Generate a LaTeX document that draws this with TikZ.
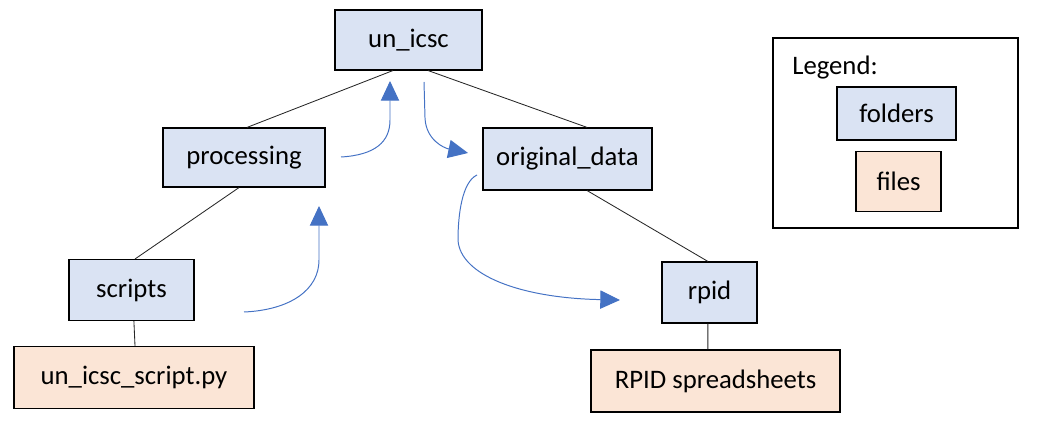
\documentclass[tikz,border=0pt]{standalone}
\usepackage{fontspec}
\setmainfont{Carlito}
\usepackage{tikz}
\usetikzlibrary{arrows.meta, calc}
\definecolor{myblue}{RGB}{68,114,196}
\definecolor{foldfill}{RGB}{218,227,243}
\definecolor{filefill}{RGB}{251,229,214}
\tikzset{
  folder/.style={rectangle, draw=black, fill=foldfill, line width=0.8pt,
    inner sep=0pt, font=\fontsize{19}{23}\selectfont},
  filebox/.style={rectangle, draw=black, fill=filefill, line width=0.8pt,
    inner sep=0pt, font=\fontsize{19}{23}\selectfont},
  link/.style={line width=0.6pt, color=black!85},
  flow/.style={-{Triangle[length=14pt, width=13pt]}, line width=0.7pt, color=myblue}
}

\begin{document}
\begin{tikzpicture}[x=0.025cm, y=-0.025cm]
  \useasboundingbox (0,0) rectangle (1037,426);

  % Folder tree
  \node[folder, minimum width=3.675cm, minimum height=1.5cm] (un) at (408.5,40) {un\_icsc};
  \node[folder, minimum width=4.05cm, minimum height=1.475cm] (proc) at (244,157.5) {processing};
  \node[folder, minimum width=4.225cm, minimum height=1.55cm] (orig) at (567.5,159) {original\_data};
  \node[folder, minimum width=3.125cm, minimum height=1.525cm] (scripts) at (131.5,290) {scripts};
  \node[filebox, minimum width=6cm, minimum height=1.55cm] (py) at (134,377.5) {un\_icsc\_script.py};
  \node[folder, minimum width=2.375cm, minimum height=1.525cm] (rpid) at (709.5,292.5) {rpid};
  \node[filebox, minimum width=6.225cm, minimum height=1.55cm] (sheets) at (715.5,381) {RPID spreadsheets};

  % Tree lines
  \draw[link] ([xshift=-0.39cm]un.south) -- ([xshift=0.075cm]proc.north);
  \draw[link] ([xshift=0.49cm]un.south) -- ([xshift=0.49cm]orig.north);
  \draw[link] ([xshift=-0.125cm]proc.south) -- ([xshift=0.09cm]scripts.north);
  \draw[link] ([xshift=0.49cm]orig.south) -- ([xshift=-0.04cm]rpid.north);
  \draw[link] ([xshift=0.06cm]scripts.south) -- ([xshift=0.025cm]py.north);
  \draw[link] ([xshift=-0.04cm]rpid.south) -- ([xshift=-0.19cm]sheets.north);

  % Flow arrows
  \coordinate (a1) at (341,157);
  \coordinate (a2) at (390,81);
  \coordinate (b1) at (424,82);
  \coordinate (b2) at (468,153);
  \coordinate (c1) at (244,312);
  \coordinate (c2) at (319,206);
  \coordinate (d1) at (477,175);
  \coordinate (d2) at (620,300);
  \draw[flow] (a1) .. controls (375,155) and (390,142) .. (390,120) -- (a2);
  \draw[flow] (b1) -- (425,118) .. controls (426,140) and (444,148) .. (b2);
  \draw[flow] (c1) .. controls (290,310) and (319,290) .. (319,260) -- (c2);
  \draw[flow] (d1) .. controls (462,182) and (458,215) .. (458,240)
    .. controls (460,275) and (520,298) .. (d2);

  % Legend
  \node[draw=black, line width=0.8pt, minimum width=6.125cm, minimum height=4.75cm, inner sep=0pt] (legbox) at (895.5,133) {};
  \node[anchor=west, inner sep=0pt, font=\fontsize{19}{23}\selectfont] (legtitle) at (792,68) {Legend:};
  \node[folder, minimum width=2.975cm, minimum height=1.325cm] (legfold) at (896.5,113.5) {folders};
  \node[filebox, minimum width=2.125cm, minimum height=1.5cm] (legfile) at (898.5,181.5) {files};
\end{tikzpicture}
\end{document}
